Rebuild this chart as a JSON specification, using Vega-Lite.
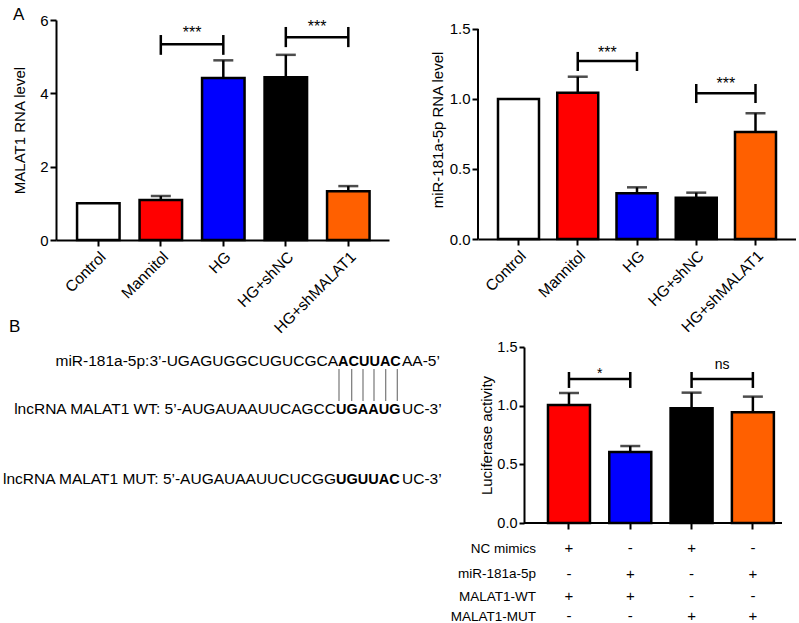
{
"$schema": "https://vega.github.io/schema/vega-lite/v6.json",
"background": "white",
"padding": {"left": 2, "top": 6, "right": 0, "bottom": 0},
"config": {
  "font": "Liberation Sans",
  "view": {"stroke": null},
  "axis": {"domainColor": "black", "domainWidth": 2, "tickColor": "black", "tickWidth": 2, "labelColor": "black", "titleColor": "black", "labelFont": "Liberation Sans", "titleFont": "Liberation Sans", "titleFontWeight": "normal", "grid": false},
  "title": {"font": "Liberation Sans", "fontWeight": "normal", "color": "black"},
  "text": {"font": "Liberation Sans", "color": "black"}
},
"datasets": {
  "a1": [
    {"g": "Control", "v": 1.0, "e": null, "c": "#ffffff"},
    {"g": "Mannitol", "v": 1.09, "e": 1.2, "c": "#ff0000"},
    {"g": "HG", "v": 4.42, "e": 4.9, "c": "#0000ff"},
    {"g": "HG+shNC", "v": 4.44, "e": 5.05, "c": "#000000"},
    {"g": "HG+shMALAT1", "v": 1.33, "e": 1.47, "c": "#ff6000"}
  ],
  "a1br": [
    {"a": "Mannitol", "b": "HG", "y": 5.34, "lo": 5.05, "hi": 5.59, "t": "***", "ty": 5.5},
    {"a": "HG+shNC", "b": "HG+shMALAT1", "y": 5.53, "lo": 5.26, "hi": 5.81, "t": "***", "ty": 5.67}
  ],
  "a2": [
    {"g": "Control", "v": 1.0, "e": null, "c": "#ffffff"},
    {"g": "Mannitol", "v": 1.045, "e": 1.159, "c": "#ff0000"},
    {"g": "HG", "v": 0.326, "e": 0.369, "c": "#0000ff"},
    {"g": "HG+shNC", "v": 0.295, "e": 0.331, "c": "#000000"},
    {"g": "HG+shMALAT1", "v": 0.764, "e": 0.898, "c": "#ff6000"}
  ],
  "a2br": [
    {"a": "Mannitol", "b": "HG", "y": 1.271, "lo": 1.2, "hi": 1.336, "t": "***", "ty": 1.296},
    {"a": "HG+shNC", "b": "HG+shMALAT1", "y": 1.041, "lo": 0.971, "hi": 1.107, "t": "***", "ty": 1.07}
  ],
  "b": [
    {"g": "1", "v": 1.006, "e": 1.108, "c": "#ff0000"},
    {"g": "2", "v": 0.605, "e": 0.656, "c": "#0000ff"},
    {"g": "3", "v": 0.978, "e": 1.111, "c": "#000000"},
    {"g": "4", "v": 0.944, "e": 1.077, "c": "#ff6000"}
  ],
  "bbr": [
    {"a": "1", "b": "2", "y": 1.228, "lo": 1.151, "hi": 1.287, "t": "*", "ty": 1.236},
    {"a": "3", "b": "4", "y": 1.228, "lo": 1.151, "hi": 1.287, "t": "ns", "ty": 1.316}
  ],
  "btab": [
    {"g": "1", "s": "+", "ty": -0.256}, {"g": "2", "s": "-", "ty": -0.256}, {"g": "3", "s": "+", "ty": -0.256}, {"g": "4", "s": "-", "ty": -0.256},
    {"g": "1", "s": "-", "ty": -0.477}, {"g": "2", "s": "+", "ty": -0.477}, {"g": "3", "s": "-", "ty": -0.477}, {"g": "4", "s": "+", "ty": -0.477},
    {"g": "1", "s": "+", "ty": -0.665}, {"g": "2", "s": "+", "ty": -0.665}, {"g": "3", "s": "-", "ty": -0.665}, {"g": "4", "s": "-", "ty": -0.665},
    {"g": "1", "s": "-", "ty": -0.835}, {"g": "2", "s": "-", "ty": -0.835}, {"g": "3", "s": "+", "ty": -0.835}, {"g": "4", "s": "+", "ty": -0.835}
  ],
  "seq": [
    {"part": "p", "t": "miR-181a-5p:3’-UGAGUGGCUGUCGCA", "x": 339, "y": 366},
    {"part": "b", "t": "ACUUAC", "x": 339, "y": 366},
    {"part": "s", "t": "AA-5’", "x": 403, "y": 366},
    {"part": "p", "t": "lncRNA MALAT1 WT: 5’-AUGAUAAUUCAGCC", "x": 337, "y": 414},
    {"part": "b", "t": "UGAAUG", "x": 337, "y": 414},
    {"part": "s", "t": "UC-3’", "x": 403, "y": 414},
    {"part": "p", "t": "lncRNA MALAT1 MUT: 5’-AUGAUAAUUCUCGG", "x": 337, "y": 484},
    {"part": "b", "t": "UGUUAC", "x": 337, "y": 484},
    {"part": "s", "t": "UC-3’", "x": 403, "y": 484},
    {"part": "r", "t": "NC mimics", "x": 537, "y": 553},
    {"part": "r", "t": "miR-181a-5p", "x": 537, "y": 578},
    {"part": "r", "t": "MALAT1-WT", "x": 537, "y": 601},
    {"part": "r", "t": "MALAT1-MUT", "x": 537, "y": 621}
  ],
  "conn": [
    {"x": 340, "y1": 369, "y2": 401},
    {"x": 352.7, "y1": 369, "y2": 401},
    {"x": 364, "y1": 369, "y2": 401},
    {"x": 375, "y1": 369, "y2": 401},
    {"x": 386.7, "y1": 369, "y2": 401},
    {"x": 398.3, "y1": 369, "y2": 401}
  ]
},
"bounds": "flush",
"columns": 2,
"spacing": {"row": 107, "column": 45},
"concat": [
  {
    "width": 333, "height": 220,
    "title": {"text": "A", "anchor": "start", "frame": "group", "fontSize": 17, "dx": -43, "baseline": "alphabetic", "offset": -24},
    "data": {"name": "a1"},
    "layer": [
      {"transform": [{"filter": "datum.e != null"}], "mark": {"type": "rule", "color": "black", "strokeWidth": 2.5},
       "encoding": {
         "x": {"field": "g", "type": "nominal", "title": null, "scale": {"domain": ["Control", "Mannitol", "HG", "HG+shNC", "HG+shMALAT1"], "paddingInner": 0.32, "paddingOuter": 0.324, "align": 0.52}, "axis": {"labelAngle": -45, "labelFontSize": 15.5, "tickSize": 6, "labelPadding": 3}},
         "y": {"field": "v", "type": "quantitative", "title": "MALAT1 RNA level", "scale": {"domain": [0, 6], "nice": false}, "axis": {"values": [0, 2, 4, 6], "labelFontSize": 15, "titleFontSize": 15, "tickSize": 6, "labelPadding": 2, "titlePadding": 12}},
         "y2": {"field": "e"}}},
      {"transform": [{"filter": "datum.e != null"}], "mark": {"type": "tick", "orient": "horizontal", "size": 20, "thickness": 2.5, "color": "black"},
       "encoding": {"x": {"field": "g", "type": "nominal", "title": null}, "y": {"field": "e", "type": "quantitative", "title": "MALAT1 RNA level"}}},
      {"mark": {"type": "bar", "stroke": "black", "strokeWidth": 2.5},
       "encoding": {"x": {"field": "g", "type": "nominal", "title": null}, "y": {"field": "v", "type": "quantitative", "title": "MALAT1 RNA level"}, "color": {"field": "c", "type": "nominal", "scale": null}}},
      {"data": {"name": "a1br"}, "mark": {"type": "rule", "color": "black", "strokeWidth": 2.5},
       "encoding": {"x": {"field": "a", "type": "nominal", "title": null}, "x2": {"field": "b"}, "y": {"field": "y", "type": "quantitative", "title": "MALAT1 RNA level"}}},
      {"data": {"name": "a1br"}, "mark": {"type": "rule", "color": "black", "strokeWidth": 2.5},
       "encoding": {"x": {"field": "a", "type": "nominal", "title": null}, "y": {"field": "lo", "type": "quantitative", "title": "MALAT1 RNA level"}, "y2": {"field": "hi"}}},
      {"data": {"name": "a1br"}, "mark": {"type": "rule", "color": "black", "strokeWidth": 2.5},
       "encoding": {"x": {"field": "b", "type": "nominal", "title": null}, "y": {"field": "lo", "type": "quantitative", "title": "MALAT1 RNA level"}, "y2": {"field": "hi"}}},
      {"data": {"name": "a1br"}, "mark": {"type": "text", "fontSize": 16, "baseline": "alphabetic", "align": "center"},
       "encoding": {"x": {"field": "a", "type": "nominal", "title": null, "bandPosition": 1.235}, "y": {"field": "ty", "type": "quantitative", "title": "MALAT1 RNA level"}, "text": {"field": "t"}}}
    ]
  },
  {
    "width": 318, "height": 219,
    "resolve": {"scale": {"x": "independent"}},
    "layer": [
      {
        "data": {"name": "a2"},
        "layer": [
          {"transform": [{"filter": "datum.e != null"}], "mark": {"type": "rule", "color": "black", "strokeWidth": 2.5},
           "encoding": {
             "x": {"field": "g", "type": "nominal", "title": null, "scale": {"domain": ["Control", "Mannitol", "HG", "HG+shNC", "HG+shMALAT1"], "paddingInner": 0.308, "paddingOuter": 0.3375, "align": 0.5}, "axis": {"labelAngle": -45, "labelFontSize": 15.5, "tickSize": 6, "labelPadding": 3}},
             "y": {"field": "v", "type": "quantitative", "title": "miR-181a-5p RNA level", "scale": {"domain": [0, 1.564], "nice": false}, "axis": {"values": [0, 0.5, 1, 1.5], "format": ".1f", "domain": false, "labelFontSize": 15, "titleFontSize": 15, "tickSize": 6, "labelPadding": 2, "titlePadding": 4}},
             "y2": {"field": "e"}}},
          {"transform": [{"filter": "datum.e != null"}], "mark": {"type": "tick", "orient": "horizontal", "size": 20, "thickness": 2.5, "color": "black"},
           "encoding": {"x": {"field": "g", "type": "nominal", "title": null}, "y": {"field": "e", "type": "quantitative", "title": "miR-181a-5p RNA level"}}},
          {"mark": {"type": "bar", "stroke": "black", "strokeWidth": 2.5},
           "encoding": {"x": {"field": "g", "type": "nominal", "title": null}, "y": {"field": "v", "type": "quantitative", "title": "miR-181a-5p RNA level"}, "color": {"field": "c", "type": "nominal", "scale": null}}},
          {"data": {"name": "a2br"}, "mark": {"type": "rule", "color": "black", "strokeWidth": 2.5},
           "encoding": {"x": {"field": "a", "type": "nominal", "title": null}, "x2": {"field": "b"}, "y": {"field": "y", "type": "quantitative", "title": "miR-181a-5p RNA level"}}},
          {"data": {"name": "a2br"}, "mark": {"type": "rule", "color": "black", "strokeWidth": 2.5},
           "encoding": {"x": {"field": "a", "type": "nominal", "title": null}, "y": {"field": "lo", "type": "quantitative", "title": "miR-181a-5p RNA level"}, "y2": {"field": "hi"}}},
          {"data": {"name": "a2br"}, "mark": {"type": "rule", "color": "black", "strokeWidth": 2.5},
           "encoding": {"x": {"field": "b", "type": "nominal", "title": null}, "y": {"field": "lo", "type": "quantitative", "title": "miR-181a-5p RNA level"}, "y2": {"field": "hi"}}},
          {"data": {"name": "a2br"}, "mark": {"type": "text", "fontSize": 16, "baseline": "alphabetic", "align": "center"},
           "encoding": {"x": {"field": "a", "type": "nominal", "title": null, "bandPosition": 1.2226}, "y": {"field": "ty", "type": "quantitative", "title": "miR-181a-5p RNA level"}, "text": {"field": "t"}}}
        ]
      },
      {
        "data": {"values": [{"k": 0}]},
        "mark": {"type": "rule", "color": "black", "strokeWidth": 2},
        "encoding": {
          "x": {"datum": 0, "type": "quantitative", "scale": {"domain": [0, 1]}, "axis": null},
          "y": {"datum": 0, "type": "quantitative", "title": "miR-181a-5p RNA level"},
          "y2": {"datum": 1.5}
        }
      }
    ]
  },
  {
    "width": 377, "height": 176,
    "title": {"text": "B", "anchor": "start", "frame": "group", "fontSize": 17, "dx": -47, "baseline": "alphabetic", "offset": -2},
    "encoding": {
      "x": {"field": "x", "type": "quantitative", "scale": {"domain": [57, 434], "nice": false, "zero": false}, "axis": null},
      "y": {"field": "y", "type": "quantitative", "scale": {"domain": [347, 523], "nice": false, "zero": false, "reverse": true}, "axis": null}
    },
    "layer": [
      {"data": {"name": "seq"}, "transform": [{"filter": "datum.part == 'p'"}], "mark": {"type": "text", "align": "right", "baseline": "alphabetic", "fontSize": 15.5}, "encoding": {"text": {"field": "t"}}},
      {"data": {"name": "seq"}, "transform": [{"filter": "datum.part == 'b'"}], "mark": {"type": "text", "align": "left", "baseline": "alphabetic", "fontSize": 14.5, "fontWeight": "bold"}, "encoding": {"text": {"field": "t"}}},
      {"data": {"name": "seq"}, "transform": [{"filter": "datum.part == 's'"}], "mark": {"type": "text", "align": "left", "baseline": "alphabetic", "fontSize": 15.5}, "encoding": {"text": {"field": "t"}}},
      {"data": {"name": "seq"}, "transform": [{"filter": "datum.part == 'r'"}], "mark": {"type": "text", "align": "right", "baseline": "alphabetic", "fontSize": 13.5}, "encoding": {"text": {"field": "t"}}},
      {"data": {"name": "conn"}, "mark": {"type": "rule", "color": "#777777", "strokeWidth": 1.2},
       "encoding": {"y": {"field": "y1", "type": "quantitative"}, "y2": {"field": "y2"}}}
    ]
  },
  {
    "width": 304, "height": 176,
    "resolve": {"scale": {"x": "independent"}},
    "layer": [
      {
        "data": {"name": "b"},
        "layer": [
          {"mark": {"type": "rule", "color": "black", "strokeWidth": 2.5},
           "encoding": {
             "x": {"field": "g", "type": "nominal", "title": null, "scale": {"domain": ["1", "2", "3", "4"], "paddingInner": 0.315, "paddingOuter": 0.637, "align": 0.896}, "axis": {"labels": false, "tickSize": 6, "domain": false}},
             "y": {"field": "v", "type": "quantitative", "title": "Luciferase activity", "scale": {"domain": [0, 1.5], "nice": false}, "axis": {"values": [0, 0.5, 1, 1.5], "format": ".1f", "offset": -46, "labelFontSize": 14.5, "titleFontSize": 15, "tickSize": 5, "labelPadding": 2, "titlePadding": 2}},
             "y2": {"field": "e"}}},
          {"mark": {"type": "tick", "orient": "horizontal", "size": 20, "thickness": 2.5, "color": "black"},
           "encoding": {"x": {"field": "g", "type": "nominal", "title": null}, "y": {"field": "e", "type": "quantitative", "title": "Luciferase activity"}}},
          {"mark": {"type": "bar", "stroke": "black", "strokeWidth": 2.5},
           "encoding": {"x": {"field": "g", "type": "nominal", "title": null}, "y": {"field": "v", "type": "quantitative", "title": "Luciferase activity"}, "color": {"field": "c", "type": "nominal", "scale": null}}},
          {"data": {"name": "bbr"}, "mark": {"type": "rule", "color": "black", "strokeWidth": 2.5},
           "encoding": {"x": {"field": "a", "type": "nominal", "title": null}, "x2": {"field": "b"}, "y": {"field": "y", "type": "quantitative", "title": "Luciferase activity"}}},
          {"data": {"name": "bbr"}, "mark": {"type": "rule", "color": "black", "strokeWidth": 2.5},
           "encoding": {"x": {"field": "a", "type": "nominal", "title": null}, "y": {"field": "lo", "type": "quantitative", "title": "Luciferase activity"}, "y2": {"field": "hi"}}},
          {"data": {"name": "bbr"}, "mark": {"type": "rule", "color": "black", "strokeWidth": 2.5},
           "encoding": {"x": {"field": "b", "type": "nominal", "title": null}, "y": {"field": "lo", "type": "quantitative", "title": "Luciferase activity"}, "y2": {"field": "hi"}}},
          {"data": {"name": "bbr"}, "mark": {"type": "text", "fontSize": 14, "baseline": "alphabetic", "align": "center"},
           "encoding": {"x": {"field": "a", "type": "nominal", "title": null, "bandPosition": 1.2298}, "y": {"field": "ty", "type": "quantitative", "title": "Luciferase activity"}, "text": {"field": "t"}}},
          {"data": {"name": "btab"}, "mark": {"type": "text", "fontSize": 15, "baseline": "alphabetic", "align": "center"},
           "encoding": {"x": {"field": "g", "type": "nominal", "title": null}, "y": {"field": "ty", "type": "quantitative", "title": "Luciferase activity"}, "text": {"field": "s"}}}
        ]
      },
      {
        "data": {"values": [{"k": 0}]},
        "mark": {"type": "rule", "color": "black", "strokeWidth": 2},
        "encoding": {
          "x": {"datum": 525, "type": "quantitative", "scale": {"domain": [479, 783], "nice": false, "zero": false}, "axis": null},
          "x2": {"datum": 783},
          "y": {"datum": 0, "type": "quantitative", "title": "Luciferase activity"}
        }
      }
    ]
  }
]
}
